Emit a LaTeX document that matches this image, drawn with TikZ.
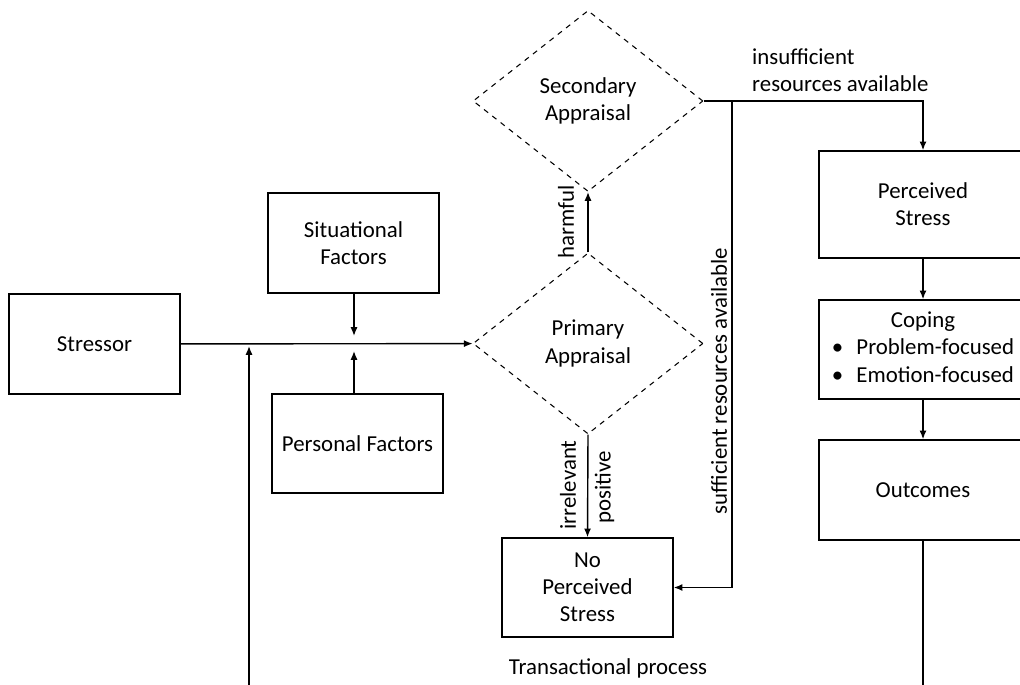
\documentclass[tikz,border=0pt]{standalone}
\usepackage{fontspec}
\setmainfont{Carlito}
\usetikzlibrary{arrows.meta, calc, positioning, shapes.geometric}

\tikzset{
	box/.style={draw, line width=0.8pt, align=center, inner sep=2pt, minimum width=3.42cm, minimum height=2cm},
	rbox/.style={box, minimum width=4.16cm},
	appraisal/.style={draw, dashed, line width=0.6pt, diamond, align=center, inner sep=0pt, minimum width=4.6cm, minimum height=3.62cm},
	flow/.style={line width=0.8pt, -{Latex[length=5pt,width=4pt]}},
	plain/.style={line width=0.8pt}
}

\begin{document}
\begin{tikzpicture}[x=0.02cm, y=-0.02cm, font=\fontsize{13}{15.5}\selectfont]
	\useasboundingbox (0,0) rectangle (1020,685);
	\clip (0,0) rectangle (1020,685);

	\node[box] (stressor) at (94.5,344) {Stressor};
	\node[box] (situational) at (353.5,243) {Situational\\Factors};
	\node[box, minimum height=1.98cm] (personal) at (357.5,443.5) {Personal Factors};

	\node[appraisal] (prim) at (588,343.5) {Primary\\Appraisal};
	\node[appraisal] (sec) at (588,101) {Secondary\\Appraisal};
	\node[box, minimum height=1.98cm] (nops) at (587.5,587.5) {No\\Perceived\\Stress};

	\node[rbox, minimum height=2.14cm] (perc) at (923,204.5) {Perceived\\Stress};
	\node[rbox, minimum height=1.98cm] (coping) at (923,349.5) {%
		\begin{tabular}{@{}c@{\hspace{7.5pt}}l@{}}
			\multicolumn{2}{c}{Coping}\\
			\textbullet & Problem-focused\\
			\textbullet & Emotion-focused
		\end{tabular}};
	\node[rbox] (outcomes) at (923,490) {Outcomes};

	\coordinate (sitend) at (354,336);
	\coordinate (perend) at (354,351);
	\coordinate (loopin) at (249,686);
	\coordinate (loopend) at (249,346);
	\coordinate (split) at (732,101);
	\coordinate (loopout) at (923,686);

	\draw[flow] (stressor) -- (prim);
	\draw[flow] (situational.south -| sitend) -- (sitend);
	\draw[flow] (personal.north -| perend) -- (perend);
	\draw[flow] (loopin) -- (loopend);

	\draw[flow] (prim.north) -- (sec.south);
	\draw[flow] (prim.south) -- (nops.north);
	\draw[flow] (sec.east) -| (perc);
	\draw[flow] (split) |- (nops.east);

	\draw[flow] (perc) -- (coping);
	\draw[flow] (coping) -- (outcomes);
	\draw[plain] (outcomes) -- (loopout);

	\node[rotate=90] (harmful) at (566,222) {harmful};
	\node[rotate=90] (irrelevant) at (568,485) {irrelevant};
	\node[rotate=90] (positive) at (604.5,487) {positive};
	\node[rotate=90] (sufficient) at (719,381) {sufficient resources available};
	\node[anchor=west, align=left] (insufficient) at (746,70) {insufficient\\resources available};
	\node (transactional) at (608,668) {Transactional process};
\end{tikzpicture}
\end{document}
